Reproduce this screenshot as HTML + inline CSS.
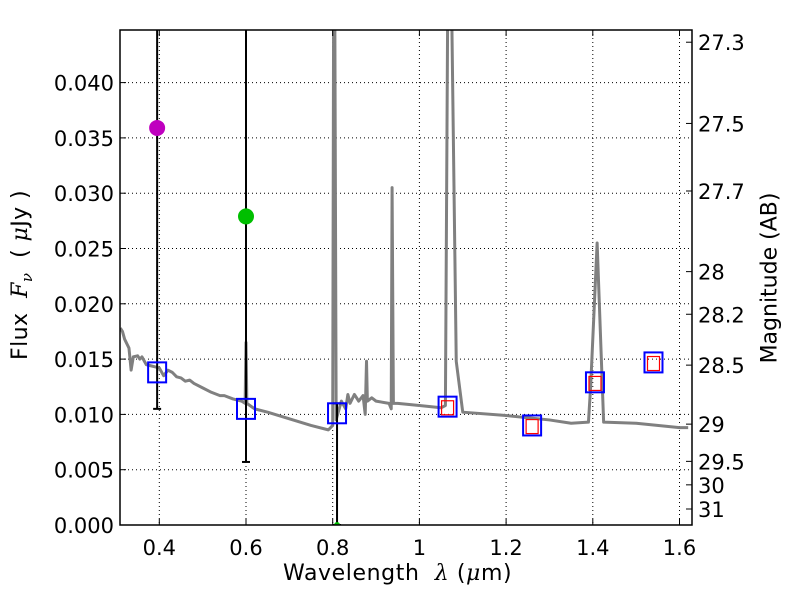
<!DOCTYPE html>
<html><head><meta charset="utf-8"><style>
body{margin:0;background:#fff;}
svg{display:block;font-family:"DejaVu Sans","Liberation Sans",sans-serif;}
</style></head><body>
<svg id="c" width="800" height="600"></svg>
<script>
const specLam=[0.31,0.315,0.32,0.33,0.335,0.34,0.35,0.355,0.36,0.37,0.38,0.39,0.40,0.41,0.42,0.43,0.44,0.45,0.46,0.47,0.48,0.50,0.52,0.54,0.55,0.57,0.59,0.598,0.600,0.602,0.62,0.65,0.70,0.75,0.79,0.80,0.802,0.805,0.808,0.81,0.82,0.83,0.835,0.84,0.85,0.86,0.87,0.875,0.878,0.88,0.89,0.90,0.93,0.935,0.937,0.94,0.95,1.0,1.05,1.06,1.065,1.075,1.085,1.10,1.2,1.3,1.35,1.39,1.395,1.41,1.425,1.5,1.6,1.62];
const specFlux=[0.0178,0.0175,0.0168,0.0160,0.0140,0.0152,0.0153,0.0150,0.0152,0.0145,0.0144,0.0143,0.0142,0.0135,0.0140,0.0138,0.0134,0.0133,0.0130,0.0131,0.0128,0.0124,0.0120,0.0117,0.0117,0.0114,0.0112,0.0110,0.0165,0.0110,0.0105,0.0102,0.0096,0.0090,0.0086,0.0090,0.045,0.045,0.0095,0.0098,0.0112,0.0105,0.0118,0.0110,0.0118,0.0112,0.0117,0.0100,0.0148,0.0112,0.0115,0.0112,0.0110,0.0105,0.0305,0.0110,0.0110,0.0108,0.0106,0.0108,0.045,0.045,0.0148,0.0102,0.0099,0.0095,0.0092,0.0093,0.0125,0.0255,0.0093,0.0092,0.0088,0.0088];
const photLam=[0.395,0.60];
const photFlux=[0.0359,0.0279];
const photColor=['#bf00bf','#00bf00'];
const errLam=[0.395,0.60,0.81];
const errLo=[0.0105,0.0057,0.0];
const errHi=[0.05,0.05,0.0110];
const obsLam=[0.395,0.60,0.81,1.065,1.26,1.405,1.54];
const obsFlux=[0.0138,0.0105,0.0101,0.0107,0.0090,0.0129,0.0147];
const modLam=[1.065,1.26,1.405,1.54];
const modFlux=[0.0106,0.0089,0.0128,0.0146];
const xTicks=[0.4,0.6,0.8,1.0,1.2,1.4,1.6];
const xTickLabels=['0.4','0.6','0.8','1','1.2','1.4','1.6'];
const yTicks=[0,0.005,0.010,0.015,0.020,0.025,0.030,0.035,0.040];
const yTickLabels=['0.000','0.005','0.010','0.015','0.020','0.025','0.030','0.035','0.040'];
const magTicks=[27.3,27.5,27.7,28,28.2,28.5,29,29.5,30,31];
const magLabels=['27.3','27.5','27.7','28','28.2','28.5','29','29.5','30','31'];
const ZP=23.9;

const L=120,R=692,T=30,B=525;
const X=v=>159.3+(v-0.4)*433.5;
const Y=v=>B-v*11060;
const magToFlux=m=>Math.pow(10,(ZP-m)/2.5);
const NS='http://www.w3.org/2000/svg';
const svg=document.getElementById('c');
function mk(t,a,p){const e=document.createElementNS(NS,t);for(const k in a)e.setAttribute(k,a[k]);(p||svg).appendChild(e);return e;}
mk('defs',{}).innerHTML='<clipPath id="pc"><rect x="120" y="30" width="572" height="495"/></clipPath>';
const grid=mk('g',{stroke:'#000','stroke-width':1,'stroke-dasharray':'1,3'});


xTicks.forEach(v=>mk('line',{x1:X(v),x2:X(v),y1:T,y2:B},grid));
yTicks.forEach(v=>mk('line',{x1:L,x2:R,y1:Y(v),y2:Y(v)},grid));
const plot=mk('g',{'clip-path':'url(#pc)'});


const sp=mk('polyline',{points:specLam.map((l,i)=>X(l)+','+Y(specFlux[i])).join(' '),fill:'none',stroke:'#808080','stroke-width':3,'stroke-linejoin':'round'},plot);


errLam.forEach((l,i)=>{
  const g=mk('g',{stroke:'#000','stroke-width':2},plot);
  
  
  mk('line',{x1:X(l),x2:X(l),y1:Y(errLo[i]),y2:Y(errHi[i])},g);
  mk('line',{x1:X(l)-4,x2:X(l)+4,y1:Y(errLo[i]),y2:Y(errLo[i])},g);
  if(errHi[i]<0.045)mk('line',{x1:X(l)-4,x2:X(l)+4,y1:Y(errHi[i]),y2:Y(errHi[i])},g);
});
mk('circle',{cx:X(0.81),cy:Y(0),r:3,fill:'#00bf00'},plot);
photLam.forEach((l,i)=>{
  const c=mk('circle',{cx:X(l),cy:Y(photFlux[i]),r:8,fill:photColor[i]},plot);
  
  
});
obsLam.forEach((l,i)=>{
  const r=mk('rect',{x:X(l)-9,y:Y(obsFlux[i])-10,width:18,height:20,fill:'none',stroke:'#0000ff','stroke-width':2},plot);
  
  
});
modLam.forEach((l,i)=>{
  const r=mk('rect',{x:X(l)-6,y:Y(modFlux[i])-7,width:12,height:14,fill:'none',stroke:'#ff0000','stroke-width':1.2},plot);
  
  
});
const fr=mk('rect',{x:L,y:T,width:R-L,height:B-T,fill:'none',stroke:'#000','stroke-width':1.5});


const tk=mk('g',{stroke:'#000','stroke-width':1});
xTicks.forEach(v=>{mk('line',{x1:X(v),x2:X(v),y1:B,y2:B-6},tk);mk('line',{x1:X(v),x2:X(v),y1:T,y2:T+6},tk);});
yTicks.forEach(v=>mk('line',{x1:L,x2:L+6,y1:Y(v),y2:Y(v)},tk));
magTicks.forEach(m=>mk('line',{x1:R,x2:R-6,y1:Y(magToFlux(m)),y2:Y(magToFlux(m))},tk));
xTicks.forEach((v,i)=>{
  const t=mk('text',{x:X(v),y:555,'font-size':21,'text-anchor':'middle'});t.textContent=xTickLabels[i];
  
  
});
yTicks.forEach((v,i)=>{
  const t=mk('text',{x:114,y:Y(v)+8,'font-size':21,'text-anchor':'end'});t.textContent=yTickLabels[i];
  
  
});
magTicks.forEach((m,i)=>{
  const t=mk('text',{x:698,y:Y(magToFlux(m))+8,'font-size':21});t.textContent=magLabels[i];
  
  
});
</script>
<div style="position:absolute;left:0;top:0;width:800px;height:600px;pointer-events:none;font-family:'DejaVu Sans','Liberation Sans',sans-serif;">
<div style="position:absolute;left:283px;top:561px;font-size:22px;white-space:nowrap;letter-spacing:0.6px;">Wavelength &nbsp;<i style="font-family:'DejaVu Serif',serif">λ</i> (<i style="font-family:'DejaVu Serif',serif">μ</i>m)</div>
<div style="position:absolute;left:22px;top:275px;font-size:22px;white-space:nowrap;letter-spacing:0.4px;transform:translate(-50%,-50%) rotate(-90deg);">Flux &nbsp;<i style="font-family:'DejaVu Serif',serif">F<sub style="font-size:15px">ν</sub></i> &nbsp;( <i style="font-family:'DejaVu Serif',serif">μ</i>Jy )</div>
<div style="position:absolute;left:770px;top:278px;font-size:22px;white-space:nowrap;transform:translate(-50%,-50%) rotate(-90deg);">Magnitude (AB)</div>
</div>
</body></html>
